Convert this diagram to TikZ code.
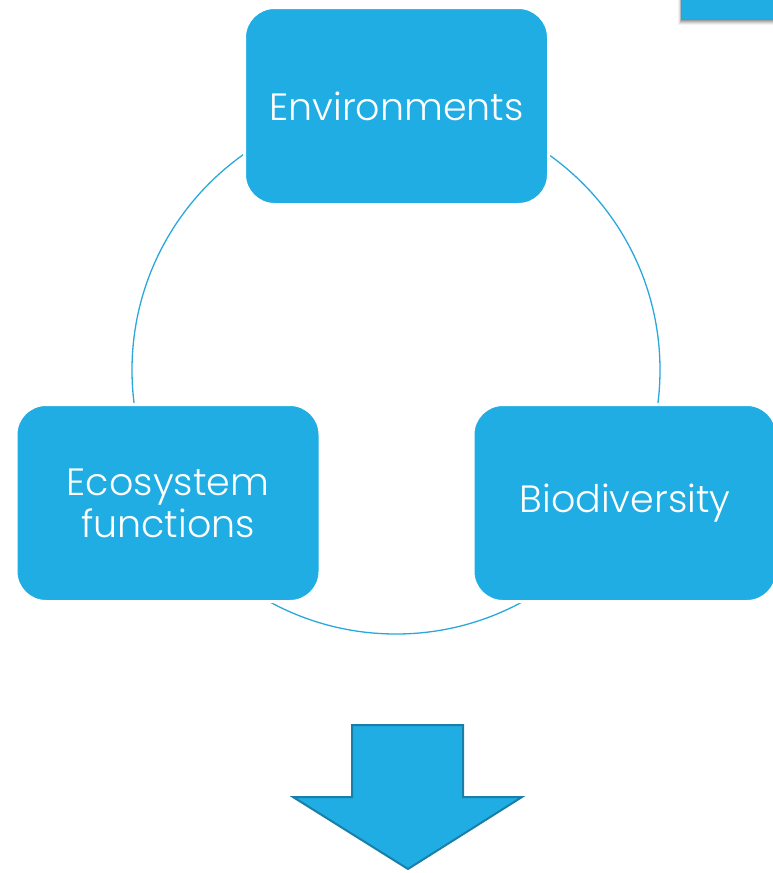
\documentclass[tikz,border=0pt]{standalone}
\usepackage{fontspec}
\setmainfont{Poppins Light}
\definecolor{boxblue}{HTML}{1FADE3}
\definecolor{edgeblue}{HTML}{1A7FA8}
\definecolor{ringblue}{HTML}{2AA8DC}
\begin{document}
\begin{tikzpicture}[x=1pt,y=-1pt,
  cyclebox/.style={draw=white,line width=3pt,fill=boxblue,rounded corners=30pt,
    minimum width=304pt,minimum height=197pt,inner sep=0pt,text=white,
    font=\fontsize{38}{42}\selectfont,align=center},
  ring/.style={draw=ringblue,line width=1.3pt},
  bigarrow/.style={fill=boxblue,draw=edgeblue,line width=2pt,line join=miter}]
\useasboundingbox (0,0) rectangle (773,873);
% top-right tab with shadow
\foreach \d/\o in {6/0.05,5/0.07,4/0.09,3/0.11,2/0.13,1/0.15}{
  \fill[black,opacity=\o] (682-\d*0.6,0) rectangle (773,19+\d);}
\fill[boxblue] (682,0) rectangle (773,19);
% ring
\coordinate (c) at (396,370);
\draw[ring] (c) circle[radius=264];
% boxes
\node[cyclebox] (env) at (396.5,106) {Environments};
\node[cyclebox] (eco) at (168,503) {Ecosystem\\functions};
\node[cyclebox] (bio) at (625,503) {Biodiversity};
% down arrow
\coordinate (a1) at (352,725);
\coordinate (a2) at (463,725);
\draw[bigarrow] (a1) -- (a2) -- (463,797) -- (522,797) -- (408,869) -- (293,797) -- (352,797) -- cycle;
\end{tikzpicture}
\end{document}
